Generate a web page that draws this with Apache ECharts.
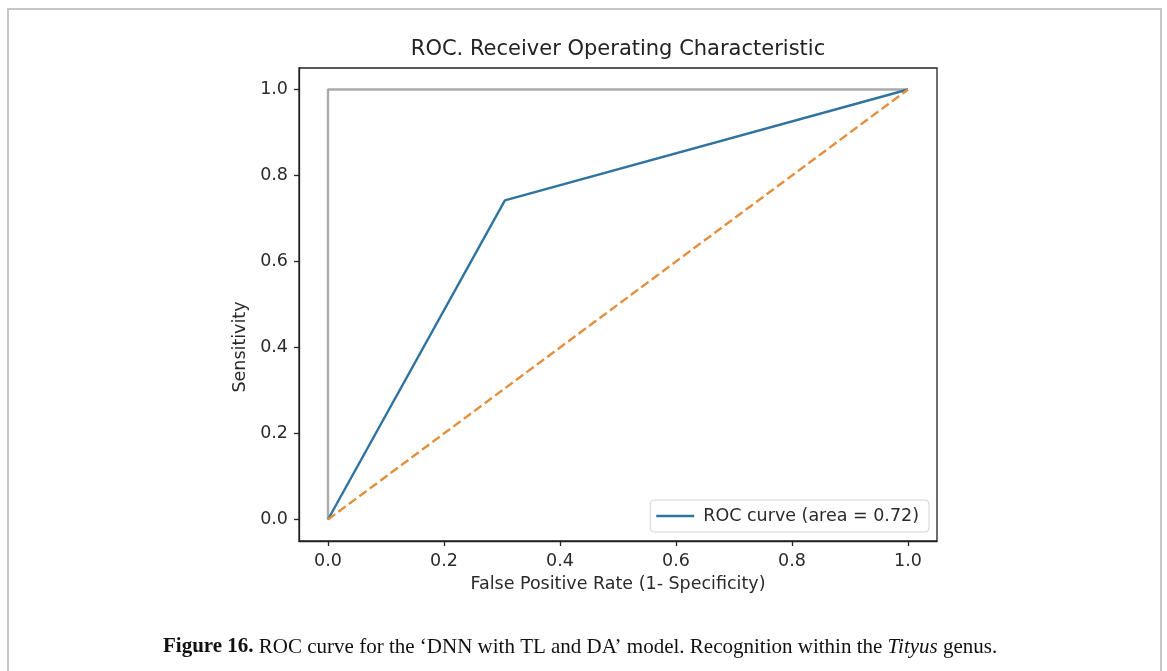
<!DOCTYPE html>
<html><head><meta charset="utf-8">
<script src="https://cdn.jsdelivr.net/npm/echarts@6/dist/echarts.min.js"></script>
<style>html,body{margin:0;padding:0;background:#fff}#c{width:1167px;height:671px}</style>
</head><body><div id="c"></div>
<script>
const rocFpr = [0, 0.305, 1.0];
const rocTpr = [0, 0.742, 1.0];
const perfectFpr = [0, 0, 1];
const perfectTpr = [0, 1, 1];
const chanceFpr = [0, 1];
const chanceTpr = [0, 1];
const tickValues = [0, 0.2, 0.4, 0.6, 0.8, 1.0];
const rocLabel = 'ROC curve (area = 0.72)';
const titleText = 'ROC. Receiver Operating Characteristic';
const xName = 'False Positive Rate (1- Specificity)';
const yName = 'Sensitivity';

const zip = (a, b) => a.map((v, i) => [v, b[i]]);
const F = 'DejaVu Sans';
const FS = 17.5;
const chart = echarts.init(document.getElementById('c'));
const axisCommon = {
  type: 'value', min: -0.05, max: 1.05,
  splitLine: {show: false},
  axisLine: {show: true, onZero: false, lineStyle: {color: '#222', width: 1.3}},
  axisTick: {show: true, customValues: tickValues, length: 5, lineStyle: {color: '#222', width: 1.3}},
  axisLabel: {customValues: tickValues, formatter: v => v.toFixed(1), color: '#2a2a2a', fontFamily: F, fontSize: FS, margin: 11},
  nameLocation: 'middle',
  nameTextStyle: {color: '#2a2a2a', fontFamily: F, fontSize: FS}
};
chart.setOption({
  animation: false,
  grid: {left: 299, top: 68, width: 638, height: 473, show: true, borderColor: '#222', borderWidth: 1.3, backgroundColor: 'transparent'},
  xAxis: Object.assign({}, axisCommon, {name: xName, nameGap: 34}),
  yAxis: Object.assign({}, axisCommon),
  legend: {
    data: [{name: rocLabel, icon: 'rect'}], right: 238, top: 500,
    backgroundColor: '#fff', borderColor: '#d4d4d4', borderWidth: 1, borderRadius: 4,
    padding: [7, 10, 7, 6], itemWidth: 38, itemHeight: 2.4, itemGap: 10,
    textStyle: {color: '#2a2a2a', fontFamily: F, fontSize: FS, padding: [0, 0, 0, 4]}
  },
  series: [
    {type: 'line', name: 'perfect', data: zip(perfectFpr, perfectTpr), symbol: 'none', lineStyle: {color: '#ababab', width: 2.4}, z: 2},
    {type: 'line', name: rocLabel, data: zip(rocFpr, rocTpr), symbol: 'none', color: '#2f73a0', lineStyle: {color: '#2f73a0', width: 2.4}, z: 3},
    {type: 'line', name: 'chance', data: zip(chanceFpr, chanceTpr), symbol: 'none', lineStyle: {color: '#e38f3c', width: 2.4, type: [9, 4]}, z: 4}
  ],
  graphic: [
    {type: 'rect', shape: {x: 8, y: 9, width: 1153, height: 720}, style: {fill: 'none', stroke: '#c6c6c6', lineWidth: 2}, silent: true},
    {type: 'text', x: 618, y: 50, style: {text: titleText, fontFamily: F, fontSize: 21, fill: '#222', align: 'center', verticalAlign: 'middle'}},
    {type: 'text', x: 240, y: 347, rotation: Math.PI / 2, style: {text: yName, fontFamily: F, fontSize: FS, fill: '#2a2a2a', align: 'center', verticalAlign: 'middle'}},
    {type: 'text', x: 163, y: 647, style: {
      text: '{b|Figure 16.} ROC curve for the ‘DNN with TL and DA’ model. Recognition within the {i|Tityus} genus.',
      fontFamily: 'Liberation Serif', fontSize: 21, fill: '#111', verticalAlign: 'middle',
      rich: {b: {fontWeight: 'bold', fontFamily: 'Liberation Serif', fontSize: 21, fill: '#111'}, i: {fontStyle: 'italic', fontFamily: 'Liberation Serif', fontSize: 21, fill: '#111'}}
    }}
  ]
});
</script></body></html>
